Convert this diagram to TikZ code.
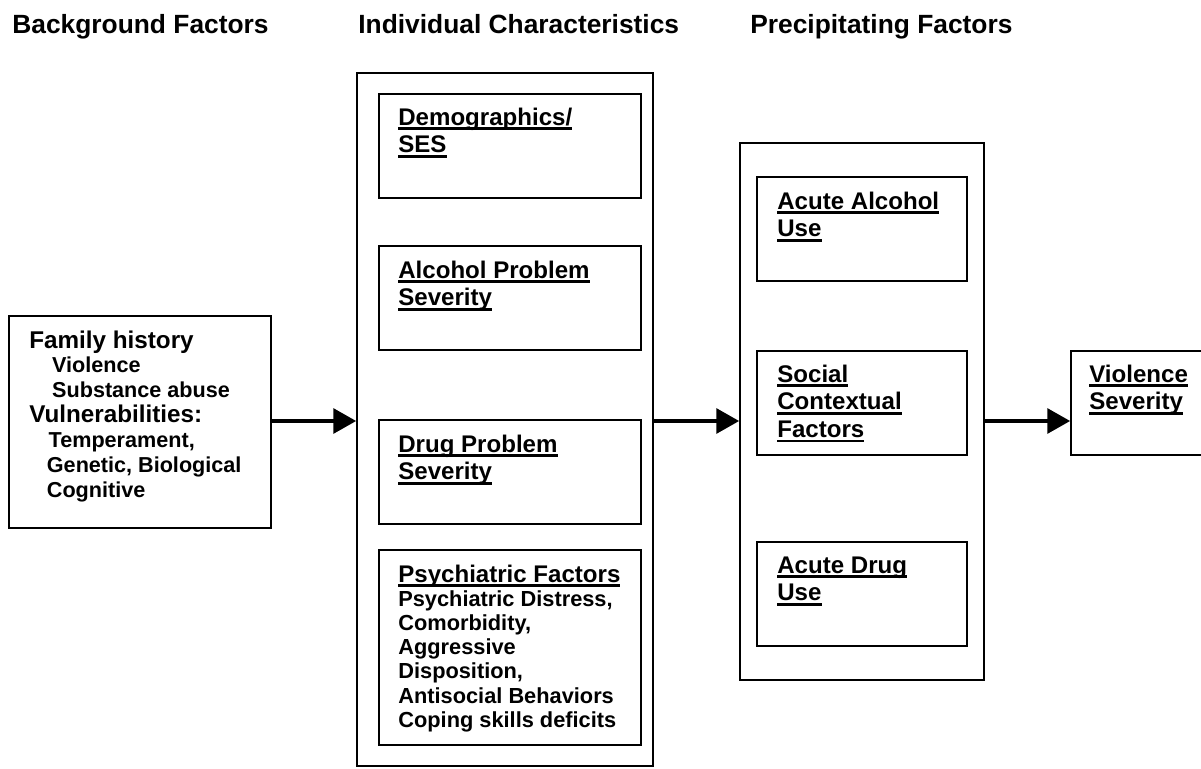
\documentclass[tikz,border=0pt]{standalone}
\usepackage{fontspec}
\setmainfont{Liberation Sans}
\usetikzlibrary{arrows.meta,fit}
\newcommand\ulx[1]{\setbox0=\hbox{#1}\rlap{\rule[-2.6pt]{\wd0}{1.4pt}}\box0}
\newcommand\stk[2]{\vtop{\baselineskip=#1\lineskiplimit=-50pt\lineskip=0pt #2}}
\newcommand\fh{\fontsize{13.8pt}{16pt}\selectfont}
\newcommand\fs{\fontsize{12.3pt}{14pt}\selectfont}
\newcommand\fb{\fontsize{12.4pt}{15pt}\selectfont}
\begin{document}
\begin{tikzpicture}[x=0.02cm,y=-0.02cm,
  box/.style={draw, line width=0.9pt, inner sep=0pt},
  lbl/.style={anchor=base west, inner sep=0pt, font=\bfseries\fontsize{13.7pt}{16pt}\selectfont},
  ttl/.style={anchor=base west, inner sep=0pt, font=\bfseries\fontsize{15pt}{18pt}\selectfont},
  arr/.style={line width=2.3pt, -{Triangle[length=13pt,width=14pt]}}]
\useasboundingbox (0,0) rectangle (1201,768);
\clip (0,0) rectangle (1201,768);
% titles
\node[ttl] (t1) at (12,33) {Background Factors};
\node[ttl] (t2) at (358,33) {Individual Characteristics};
\node[ttl] (t3) at (750,33) {Precipitating Factors};
% boxes
\node[box, fit={(9,316) (271,528)}] (fam) {};
\node[box, fit={(357,73) (653,766)}] (ind) {};
\node[box, fit={(379,94) (641,198)}] (demo) {};
\node[box, fit={(379,246) (641,350)}] (alc) {};
\node[box, fit={(379,420) (641,524)}] (drug) {};
\node[box, fit={(379,550) (641,745)}] (psy) {};
\node[box, fit={(740,143) (984,680)}] (prec) {};
\node[box, fit={(757,177) (967,281)}] (aalc) {};
\node[box, fit={(757,351) (967,455)}] (soc) {};
\node[box, fit={(757,542) (967,646)}] (adrug) {};
\node[box, fit={(1071,351) (1215,455)}] (viol) {};
% texts
\node[lbl] (famt) at (29,348) {\stk{14.2pt}{%
  \hbox{\fh Family history}%
  \hbox{\fs\kern13pt Violence}%
  \hbox{\fs\kern13pt Substance abuse}%
  \hbox{\fh Vulnerabilities:}%
  \hbox{\fs\kern11pt Temperament,}%
  \hbox{\fs\kern10pt Genetic, Biological}%
  \hbox{\fs\kern10pt Cognitive}}};
\node[lbl] (demot) at (398,125) {\stk{15.9pt}{\hbox{\ulx{Demographics/}}\hbox{\ulx{SES}}}};
\node[lbl] (alct) at (398,278) {\stk{15.9pt}{\hbox{\ulx{Alcohol Problem}}\hbox{\ulx{Severity}}}};
\node[lbl] (drugt) at (398,452) {\stk{15.9pt}{\hbox{\ulx{Drug Problem}}\hbox{\ulx{Severity}}}};
\node[lbl] (psyt) at (398,582) {\stk{13.8pt}{%
  \hbox{\ulx{Psychiatric Factors}}%
  \hbox{\fb Psychiatric Distress,}%
  \hbox{\fb Comorbidity,}%
  \hbox{\fb Aggressive}%
  \hbox{\fb Disposition,}%
  \hbox{\fb Antisocial Behaviors}%
  \hbox{\fb Coping skills deficits}}};
\node[lbl] (aalct) at (777,209) {\stk{15.9pt}{\hbox{\ulx{Acute Alcohol}}\hbox{\ulx{Use}}}};
\node[lbl] (soct) at (777,382) {\stk{15.9pt}{\hbox{\ulx{Social}}\hbox{\ulx{Contextual}}\hbox{\ulx{Factors}}}};
\node[lbl] (adrugt) at (777,573) {\stk{15.9pt}{\hbox{\ulx{Acute Drug}}\hbox{\ulx{Use}}}};
\node[lbl] (violt) at (1089,382) {\stk{15.9pt}{\hbox{\ulx{Violence}}\hbox{\ulx{Severity}}}};
% arrows
\coordinate (ay) at (0,421);
\draw[arr] (fam.east |- ay) -- (ind.west |- ay);
\draw[arr] (ind.east |- ay) -- (prec.west |- ay);
\draw[arr] (prec.east |- ay) -- (viol.west |- ay);
\end{tikzpicture}
\end{document}
